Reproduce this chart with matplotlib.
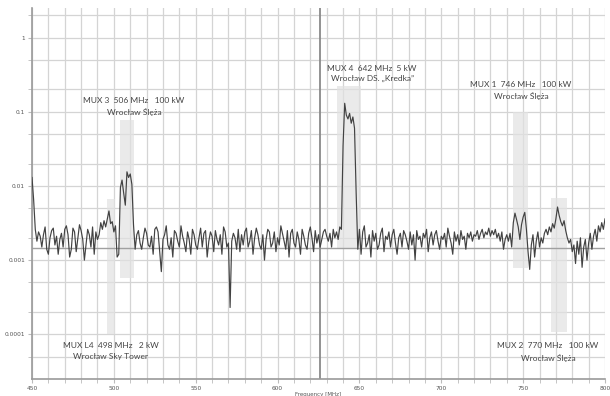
import matplotlib
matplotlib.use("Agg")
import matplotlib.pyplot as plt
import numpy as np
from matplotlib.ticker import FixedLocator, NullFormatter

# spectrum, 1 MHz steps from 450 to 800 MHz, level in units of 1e-3
freq_start = 450
freq_step = 1
level_milli = [
    13.0, 6.5, 2.6, 1.8, 2.4, 2.1, 1.5, 2.2, 2.8, 1.4, 1.2,
    2.0, 2.5, 2.7, 1.6, 2.1, 1.2, 1.9, 2.3, 1.5, 2.6,
    2.9, 2.2, 1.1, 1.4, 2.7, 2.4, 1.3, 2.0, 3.0, 2.5,
    1.9, 1.0, 1.6, 2.6, 2.2, 1.5, 2.8, 1.2, 2.4, 1.9,
    2.2, 3.2, 2.6, 3.4, 2.8, 3.6, 4.6, 3.1, 3.3, 2.4,
    2.9, 1.1, 1.2, 9.5, 12.0, 8.0, 5.5, 15.5, 13.0, 14.5,
    10.5, 3.0, 1.4, 2.2, 2.5, 1.7, 1.4, 2.0, 2.7, 2.3,
    1.6, 1.5, 2.1, 1.2, 2.6, 2.8, 2.4, 1.3, 0.7, 1.9,
    2.2, 2.9, 1.6, 1.4, 2.0, 1.1, 2.5, 2.3, 1.8, 1.5,
    2.9, 2.1, 1.7, 1.3, 2.4, 1.9, 1.2, 2.6, 2.2, 1.6,
    1.4, 2.0, 2.7, 1.5, 2.3, 2.5, 1.1, 1.8, 2.4, 2.1,
    1.3, 2.5, 1.9, 1.6, 2.2, 1.2, 2.8, 2.4, 1.5, 1.7,
    0.23, 1.8, 2.3, 2.0, 1.4, 2.6, 1.3, 2.2, 1.6, 2.4,
    2.7, 1.5, 1.8, 2.5, 1.2, 2.0, 2.7, 2.2, 1.6, 1.4,
    2.2, 1.0, 1.9, 2.6, 2.4, 1.5, 1.7, 2.4, 1.3, 2.0,
    1.6, 2.9, 2.3, 1.8, 1.4, 2.5, 1.1, 2.3, 2.6, 1.7,
    1.5, 2.4, 1.9, 1.2, 2.6, 2.1, 1.6, 1.4, 2.3, 2.8,
    2.0, 1.3, 2.5, 1.7, 2.2, 1.5, 1.9, 2.4, 2.6, 2.1,
    1.8, 2.3, 1.5, 2.6, 2.0, 2.4, 1.9, 2.8, 2.6, 35.0,
    130.0, 90.0, 80.0, 95.0, 70.0, 85.0, 60.0, 8.0, 1.4, 2.6,
    1.2, 2.4, 2.9, 1.5, 1.7, 2.2, 1.1, 2.5, 1.8, 2.3,
    1.4, 1.6, 2.3, 2.7, 1.3, 2.1, 1.9, 2.4, 1.5, 2.2,
    2.6, 1.7, 1.2, 2.0, 2.3, 1.5, 2.5, 2.2, 1.8, 1.4,
    2.4, 1.6, 2.2, 1.0, 2.5, 1.9, 2.1, 1.5, 2.3, 2.0,
    2.6, 1.3, 2.0, 2.4, 1.6, 2.2, 2.5, 1.8, 1.4, 2.1,
    1.9, 2.3, 1.5, 2.7, 2.1, 1.7, 1.2, 2.4, 1.8, 2.2,
    1.6, 2.5, 1.9, 2.1, 1.4, 2.3, 2.0, 2.4, 1.8, 2.2,
    2.1, 2.5, 1.9, 2.3, 2.6, 2.0, 2.4, 2.2, 2.7, 2.1,
    2.5, 2.2, 2.6, 2.0, 2.3, 1.8, 2.4, 1.4, 1.9, 2.2,
    1.8, 2.3, 1.5, 3.2, 4.3, 3.5, 2.8, 1.9, 3.0, 3.8,
    4.4, 2.6, 1.3, 0.75, 1.6, 2.2, 1.1, 1.8, 2.4, 1.5,
    2.0, 1.7, 2.3, 2.6, 2.2, 2.8, 2.4, 3.1, 2.7, 3.6,
    5.2, 4.0, 3.3, 2.9, 3.4, 2.5, 2.0, 1.7, 1.9, 1.3,
    1.6, 0.9, 1.8, 1.2, 2.0, 0.8, 1.5, 1.9, 1.0, 1.7,
    2.3, 1.4, 2.1, 2.6, 1.8, 2.9, 2.4, 3.2, 2.6, 3.6,
]

# transmitters: label lines, band (MHz) and band level range
mux_lines = [
    ("MUX 3  506 MHz   100 kW", "Wrocław Ślęża"),
    ("MUX 4  642 MHz  5 kW", "Wrocław DS. „Kredka”"),
    ("MUX 1  746 MHz   100 kW", "Wrocław Ślęża"),
    ("MUX L4  498 MHz   2 kW", "Wrocław Sky Tower"),
    ("MUX 2  770 MHz   100 kW", "Wrocław Ślęża"),
]
band_lo = [503.5, 636.5, 743.5, 496.0, 767.0]
band_hi = [512.5, 651.0, 752.7, 500.8, 776.8]
band_bottom = [0.00058, 0.00146, 0.00079, 0.0001, 0.000106]
band_top = [0.078, 0.22, 0.10, 0.0066, 0.0068]

marker_freq = 626
ref_level = 0.00145

# label anchors (data coords)
label_x = [512.3, 657.7, 748.7, 498.2, 765.2]
label_y = [0.1175, 0.327, 0.193, 5.96e-5, 5.78e-5]

freq = freq_start + freq_step * np.arange(len(level_milli))
level = np.array(level_milli) * 1e-3

fig = plt.figure(figsize=(6.10, 3.96), dpi=100)
ax = fig.add_axes([32 / 610, 17 / 396, 573 / 610, 371 / 396])

ax.set_yscale("log")
ax.set_xlim(450, 800)
ax.set_ylim(2.5e-5, 2.5)

# grid
ax.xaxis.set_major_locator(FixedLocator(np.arange(450, 801, 50)))
ax.xaxis.set_minor_locator(FixedLocator(np.arange(450, 801, 10)))
decades = [1e-4, 1e-3, 1e-2, 1e-1, 1]
ax.yaxis.set_major_locator(FixedLocator(decades))
minor_y = [m * d for d in [1e-5, 1e-4, 1e-3, 1e-2, 1e-1, 1] for m in (2, 5)]
ax.yaxis.set_minor_locator(FixedLocator(minor_y))
ax.yaxis.set_minor_formatter(NullFormatter())
ax.set_yticklabels(["0.0001", "0.001", "0.01", "0.1", "1"])
ax.grid(True, which="both", color="#d4d4d4", lw=0.9, zorder=0)
ax.set_axisbelow(True)

for lo, hi, b, t in zip(band_lo, band_hi, band_bottom, band_top):
    ax.fill_between([lo, hi], b, t, color="#e2e2e2", alpha=0.7, lw=0, zorder=1)

ax.axhline(ref_level, color="#a0a0a0", lw=1.0, zorder=2)
ax.axvline(marker_freq, color="#8a8a8a", lw=1.3, zorder=2)

ax.plot(freq, level, color="#424242", lw=0.85, zorder=3)

for lines, x, y in zip(mux_lines, label_x, label_y):
    ax.text(x, y, "\n".join(lines), ha="center", va="center", fontsize=6.0,
            family="Lato", color="#444444", linespacing=1.6, zorder=4)

for s in ["top", "right"]:
    ax.spines[s].set_visible(False)
for s in ["left", "bottom"]:
    ax.spines[s].set_color("#9a9a9a")
    ax.spines[s].set_linewidth(1.2)

ax.tick_params(which="both", length=3, color="#bbbbbb", labelsize=4.2,
               labelcolor="#555555", pad=2)
ax.set_xlabel("Frequency [MHz]", fontsize=4, color="#555555", labelpad=1)

fig.savefig("out.png", dpi=100)
